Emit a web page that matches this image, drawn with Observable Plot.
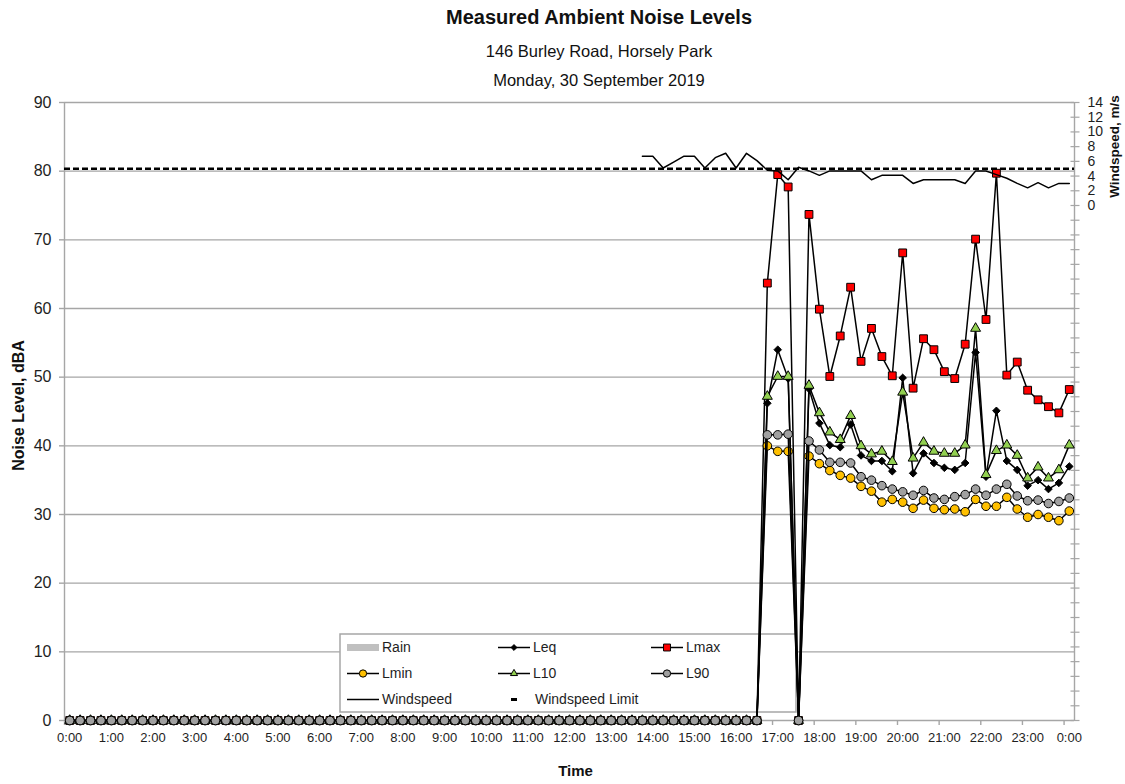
<!DOCTYPE html>
<html>
<head>
<meta charset="utf-8">
<script src="https://cdn.jsdelivr.net/npm/d3@7"></script>
<script src="https://cdn.jsdelivr.net/npm/@observablehq/plot@0.6"></script>
<style>
  body { margin: 0; background: #fff; font-family: "Liberation Sans", Arial, sans-serif; }
  #chart { position: relative; width: 1125px; height: 784px; }
  #plot { position: absolute; left: 0; top: 0; }
  .head { position: absolute; left: 599px; transform: translateX(-50%); white-space: nowrap; line-height: 1; color: #111; }
  #title { top: 7.2px; font-size: 20px; font-weight: bold; }
  #sub1 { top: 43px; font-size: 16.5px; }
  #sub2 { top: 72px; font-size: 16.5px; }
</style>
</head>
<body>
<div id="chart">
  <div id="plot"></div>
  <div class="head" id="title">Measured Ambient Noise Levels</div>
  <div class="head" id="sub1">146 Burley Road, Horsely Park</div>
  <div class="head" id="sub2">Monday, 30 September 2019</div>
</div>
<script>
// 15-minute logging intervals, 0:00 through 24:00 (97 slots), in hours
const slotHours = d3.range(97).map(i => i / 4);
const hourTicks = d3.range(25);

// Noise levels, dBA (logger reads 0 until it was started at 16:45; 17:30 dropped out)
const leq = [
  0,0,0,0,0,0,0,0, 0,0,0,0,0,0,0,0, 0,0,0,0,0,0,0,0, 0,0,0,0,0,0,0,0,
  0,0,0,0,0,0,0,0, 0,0,0,0,0,0,0,0, 0,0,0,0,0,0,0,0, 0,0,0,0,0,0,0,0,
  0,0,0,
  46.2, 54.0, 49.8, 0, 48.3, 43.3, 40.1, 39.8, 43.1, 38.6, 37.8, 37.8, 36.3, 49.9, 36.0,
  38.9, 37.5, 36.8, 36.5, 37.5, 53.6, 35.5, 45.1, 37.8, 36.5, 34.2, 35.0, 33.7, 34.6, 37.0
];
const lmax = [
  0,0,0,0,0,0,0,0, 0,0,0,0,0,0,0,0, 0,0,0,0,0,0,0,0, 0,0,0,0,0,0,0,0,
  0,0,0,0,0,0,0,0, 0,0,0,0,0,0,0,0, 0,0,0,0,0,0,0,0, 0,0,0,0,0,0,0,0,
  0,0,0,
  63.7, 79.5, 77.7, 0, 73.7, 59.9, 50.1, 56.0, 63.1, 52.3, 57.1, 53.0, 50.2, 68.1, 48.4,
  55.6, 54.0, 50.8, 49.8, 54.8, 70.1, 58.4, 79.7, 50.3, 52.2, 48.1, 46.7, 45.7, 44.8, 48.2
];
const lmin = [
  0,0,0,0,0,0,0,0, 0,0,0,0,0,0,0,0, 0,0,0,0,0,0,0,0, 0,0,0,0,0,0,0,0,
  0,0,0,0,0,0,0,0, 0,0,0,0,0,0,0,0, 0,0,0,0,0,0,0,0, 0,0,0,0,0,0,0,0,
  0,0,0,
  40.0, 39.2, 39.2, 0, 38.5, 37.4, 36.4, 35.7, 35.3, 34.1, 33.4, 31.8, 32.2, 31.8, 30.9,
  32.1, 30.9, 30.7, 30.8, 30.4, 32.2, 31.2, 31.2, 32.5, 30.8, 29.6, 30.0, 29.6, 29.1, 30.5
];
const l10 = [
  0,0,0,0,0,0,0,0, 0,0,0,0,0,0,0,0, 0,0,0,0,0,0,0,0, 0,0,0,0,0,0,0,0,
  0,0,0,0,0,0,0,0, 0,0,0,0,0,0,0,0, 0,0,0,0,0,0,0,0, 0,0,0,0,0,0,0,0,
  0,0,0,
  47.2, 50.1, 50.1, 0, 48.8, 44.8, 42.0, 40.9, 44.4, 40.0, 38.8, 39.2, 37.7, 47.8, 38.2,
  40.5, 39.2, 38.9, 38.9, 40.1, 57.1, 35.8, 39.3, 40.1, 38.6, 35.3, 36.9, 35.3, 36.5, 40.1
];
const l90 = [
  0,0,0,0,0,0,0,0, 0,0,0,0,0,0,0,0, 0,0,0,0,0,0,0,0, 0,0,0,0,0,0,0,0,
  0,0,0,0,0,0,0,0, 0,0,0,0,0,0,0,0, 0,0,0,0,0,0,0,0, 0,0,0,0,0,0,0,0,
  0,0,0,
  41.6, 41.6, 41.7, 0, 40.7, 39.4, 37.6, 37.6, 37.5, 35.5, 35.0, 34.2, 33.7, 33.3, 32.8,
  33.5, 32.4, 32.2, 32.6, 32.9, 33.7, 32.8, 33.7, 34.4, 32.7, 32.0, 32.1, 31.6, 31.9, 32.4
];

// Windspeed, m/s (anemometer record starts at 13:45)
const windspeed = [
  null,null,null,null,null,null,null,null, null,null,null,null,null,null,null,null,
  null,null,null,null,null,null,null,null, null,null,null,null,null,null,null,null,
  null,null,null,null,null,null,null,null, null,null,null,null,null,null,null,null,
  null,null,null,null,null,null,null,
  6.7, 6.7, 5.1, 5.9, 6.7, 6.7, 5.1, 6.5, 7.1, 5.1, 7.1, 6.1,
  4.8, 4.7, 3.5, 5.2, 4.7, 4.1, 4.7, 4.7, 4.7, 4.7, 3.5, 4.1, 4.1, 4.1, 3.0,
  3.5, 3.5, 3.5, 3.5, 3.0, 4.7, 4.7, 4.2, 3.7, 3.0, 2.4, 3.1, 2.4, 3.0, 3.0
];
const windspeedLimit = 5;

const noiseTicks = d3.range(0, 91, 10);
const windTicks = d3.range(-70, 15, 2);
const windLabels = d3.range(0, 15, 2);

// Secondary (windspeed) axis spans -70..14 m/s over the same height as 0..90 dBA
const noiseDomain = [0, 90];
const windDomain = [-70, 14];
const windToNoise = d3.scaleLinear(windDomain, noiseDomain);

const series = [
  {name: "Leq",  values: leq,  symbol: "diamond2", fill: "#000000", r: 3.4},
  {name: "Lmax", values: lmax, symbol: "square",   fill: "#ff0000", r: 4.4},
  {name: "Lmin", values: lmin, symbol: "circle",   fill: "#ffc000", r: 4.3},
  {name: "L10",  values: l10,  symbol: "triangle", fill: "#92d050", r: 3.7},
  {name: "L90",  values: l90,  symbol: "circle",   fill: "#a0a0a0", r: 4.3}
];

const gray = "#a6a6a6";
const ink = "#1e1e1e";
const xDomain = [-0.125, 24.125];

const seriesMarks = series.flatMap(s => [
  Plot.line(s.values, {x: slotHours, y: d => d, stroke: "#000", strokeWidth: 1.5}),
  Plot.dot(s.values, {x: slotHours, y: d => d, symbol: s.symbol, r: s.r, fill: s.fill, stroke: "#000", strokeWidth: 1})
]);

const titleStyle = {textAnchor: "middle", lineAnchor: "middle", fontWeight: "bold", fill: "#111"};

const chart = Plot.plot({
  width: 1125,
  height: 784,
  marginLeft: 64,
  marginRight: 51,
  marginTop: 102,
  marginBottom: 64,
  style: {fontFamily: "'Liberation Sans', Arial, sans-serif", background: "transparent", overflow: "visible"},
  x: {type: "linear", domain: xDomain},
  y: {domain: noiseDomain},
  marks: [
    // horizontal gridlines (first rule mark in the document)
    Plot.ruleY(noiseTicks, {stroke: gray, strokeWidth: 1.4}),
    Plot.ruleX([xDomain[0], xDomain[1]], {stroke: gray, strokeWidth: 1.4}),
    // left axis
    Plot.axisY({ticks: noiseTicks, tickSize: 5, stroke: gray, strokeWidth: 1.4, tickFormat: () => ""}),
    Plot.axisY({ticks: noiseTicks, tickSize: 0, tickPadding: 13, fill: ink, fontSize: 16}),
    // right (windspeed) axis
    Plot.axisY({anchor: "right", ticks: windTicks.map(windToNoise), tickSize: 9, dx: -4.5, stroke: gray, strokeWidth: 1.2, tickFormat: () => ""}),
    Plot.axisY({anchor: "right", ticks: windLabels.map(windToNoise), tickSize: 0, tickPadding: 13, fill: ink, fontSize: 14,
      tickFormat: v => String(Math.round(windToNoise.invert(v)))}),
    // time axis: ticks between slots, labels on the hour
    Plot.axisX({ticks: hourTicks.map(h => h - 0.125), tickSize: 5, stroke: gray, strokeWidth: 1.4, tickFormat: () => ""}),
    Plot.axisX({ticks: hourTicks, tickSize: 0, tickPadding: 12, fill: ink, fontSize: 13, tickFormat: h => `${h % 24}:00`}),
    // axis titles
    Plot.text(["Noise Level, dBA"], {...titleStyle, frameAnchor: "left", text: d => d, rotate: -90, dx: -46, dy: -6, fontSize: 16}),
    Plot.text(["Time"], {...titleStyle, frameAnchor: "bottom", text: d => d, dx: 6, dy: 51, fontSize: 15}),
    Plot.text(["Windspeed, m/s"], {...titleStyle, frameAnchor: "top-right", text: d => d, rotate: -90, dx: 40, dy: 44, fontSize: 13.5}),
    // noise series
    ...seriesMarks,
    // windspeed on the secondary scale
    Plot.line(windspeed, {x: slotHours, y: d => d == null ? NaN : windToNoise(d), stroke: "#000", strokeWidth: 1.5}),
    Plot.ruleY([windspeedLimit], {y: d => windToNoise(d), stroke: "#000", strokeWidth: 2.5, strokeDasharray: "6,3"})
  ]
});

// Legend, placed above the gridlines but beneath the data
const legendBox = {x: 340, y: 634, w: 456, h: 78};
const legendCols = [347, 498, 651];
const legendRows = [647.5, 673.5, 699.5];
const sampleLen = 32;
const legendItems = [
  {name: "Rain", col: 0, row: 0, kind: "bar"},
  {name: "Leq", col: 1, row: 0, kind: "marker", symbol: d3.symbolDiamond2, size: 22, fill: "#000000"},
  {name: "Lmax", col: 2, row: 0, kind: "marker", symbol: d3.symbolSquare, size: 48, fill: "#ff0000"},
  {name: "Lmin", col: 0, row: 1, kind: "marker", symbol: d3.symbolCircle, size: 42, fill: "#ffc000"},
  {name: "L10", col: 1, row: 1, kind: "marker", symbol: d3.symbolTriangle, size: 22, fill: "#92d050"},
  {name: "L90", col: 2, row: 1, kind: "marker", symbol: d3.symbolCircle, size: 42, fill: "#a0a0a0"},
  {name: "Windspeed", col: 0, row: 2, kind: "line"},
  {name: "Windspeed Limit", col: 1, row: 2, kind: "dash"}
];

const legend = d3.create("svg:g").attr("aria-label", "legend").attr("text-anchor", "start");
legend.append("rect")
  .attr("x", legendBox.x).attr("y", legendBox.y)
  .attr("width", legendBox.w).attr("height", legendBox.h)
  .attr("fill", "#fff").attr("stroke", gray).attr("stroke-width", 1.5);

for (const item of legendItems) {
  const x0 = legendCols[item.col];
  const y = legendRows[item.row];
  const cx = x0 + sampleLen / 2;
  const g = legend.append("g");
  if (item.kind === "bar") {
    g.append("rect").attr("x", x0).attr("y", y - 3.5).attr("width", sampleLen).attr("height", 7).attr("fill", "#c0c0c0");
  } else if (item.kind === "dash") {
    g.append("line").attr("x1", cx - 3).attr("x2", cx + 3).attr("y1", y).attr("y2", y)
      .attr("stroke", "#000").attr("stroke-width", 3);
  } else {
    g.append("line").attr("x1", x0).attr("x2", x0 + sampleLen).attr("y1", y).attr("y2", y)
      .attr("stroke", "#000").attr("stroke-width", 1.5);
    if (item.kind === "marker") {
      g.append("path").attr("d", d3.symbol(item.symbol, item.size)())
        .attr("transform", `translate(${cx},${y})`)
        .attr("fill", item.fill).attr("stroke", "#000").attr("stroke-width", 1);
    }
  }
  g.append("text").attr("x", x0 + sampleLen + (item.kind === "dash" ? 5 : 3)).attr("y", y)
    .attr("dy", "0.35em").attr("font-size", 14).attr("fill", ink)
    .attr("text-anchor", "start")
    .attr("font-family", "'Liberation Sans', Arial, sans-serif")
    .text(item.name);
}

const svgRoot = chart.tagName.toLowerCase() === "svg" ? chart : chart.querySelector("svg");
const gridGroup = svgRoot.querySelector('g[aria-label="rule"]');
if (gridGroup) gridGroup.after(legend.node());
else svgRoot.append(legend.node());

document.getElementById("plot").append(chart);
</script>
</body>
</html>
